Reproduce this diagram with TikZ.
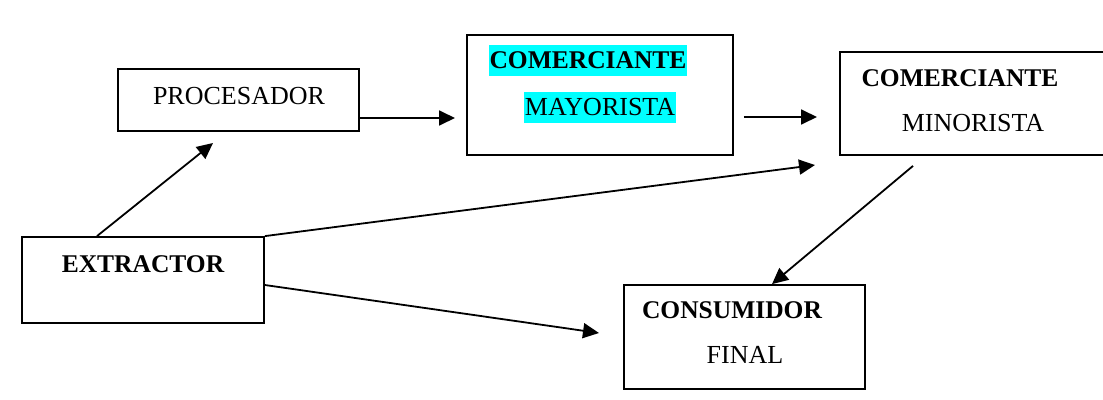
\documentclass[tikz,border=0pt]{standalone}
\usepackage{fontspec}
\setmainfont{Liberation Serif}
\usetikzlibrary{arrows.meta, positioning}
\definecolor{resalte}{RGB}{0,255,255}

\begin{document}
\begin{tikzpicture}[x=1pt,y=-1pt,
        caja/.style={draw, line width=1.8pt, inner sep=0pt},
        txt/.style={font=\fontsize{26}{30}\selectfont, inner sep=0pt},
        txtb/.style={font=\fontsize{25.5}{30}\selectfont\bfseries, inner sep=0pt},
        marca/.style={fill=resalte, minimum height=31pt, inner xsep=1pt},
        flecha/.style={-{Triangle[length=16pt,width=15pt]}, line width=1.8pt}]
        \useasboundingbox (0,0) rectangle (1103,399);

        % cajas
        \node[caja, minimum width=241pt, minimum height=62pt]  (procesador) at (238.5,100) {};
        \node[caja, minimum width=266pt, minimum height=120pt] (mayorista)  at (600,95)    {};
        \node[caja, minimum width=280pt, minimum height=103pt] (minorista)  at (980,103.5) {};
        \node[caja, minimum width=242pt, minimum height=86pt]  (extractor)  at (143,280)   {};
        \node[caja, minimum width=241pt, minimum height=104pt] (consumidor) at (744.5,337) {};

        % textos
        \node[txt]         (t_proc)  at (239,96)  {PROCESADOR};
        \node[txtb, marca] (t_com1)  at (588,60)  {COMERCIANTE};
        \node[txt, marca]  (t_may)   at (600,107) {MAYORISTA};
        \node[txtb]        (t_com2)  at (960,78)  {COMERCIANTE};
        \node[txt]         (t_min)   at (973,123) {MINORISTA};
        \node[txtb]        (t_ext)   at (143,264) {EXTRACTOR};
        \node[txtb]        (t_cons)  at (732,310) {CONSUMIDOR};
        \node[txt]         (t_fin)   at (745,355) {FINAL};

        % puntas libres
        \coordinate (f_may)  at (455,118);
        \coordinate (f_min)  at (817,117);
        \coordinate (f_proc) at (213,143);
        \coordinate (f_min2) at (815,165);
        \coordinate (f_cons) at (599,333);

        \draw[flecha] ([yshift=-18pt]procesador.east) -- (f_may);
        \draw[flecha] ([xshift=10pt,yshift=-22pt]mayorista.east) -- (f_min);
        \draw[flecha] ([xshift=-46pt]extractor.north) -- (f_proc);
        \draw[flecha] (extractor.north east) -- (f_min2);
        \draw[flecha] ([yshift=-5pt]extractor.east) -- (f_cons);
        \draw[flecha] ([xshift=-67pt,yshift=-10pt]minorista.south) -- ([xshift=27.5pt]consumidor.north);
    \end{tikzpicture}
\end{document}
